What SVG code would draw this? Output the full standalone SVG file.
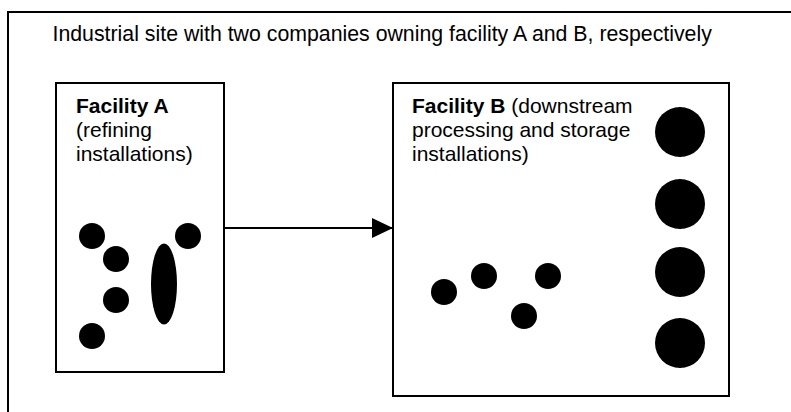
<svg xmlns="http://www.w3.org/2000/svg" width="791" height="412" viewBox="0 0 791 412">
<style>
.box{fill:#fff;stroke:#000;stroke-width:2}
.t{font-family:"Liberation Sans",Arial,sans-serif;font-size:21px;fill:#000}
.b{font-weight:bold}
.dot{fill:#000}
</style>
<defs>
<marker id="ah" markerWidth="22" markerHeight="20" refX="21" refY="10" orient="auto" markerUnits="userSpaceOnUse">
<path d="M0,0 L21,10 L0,20 Z" fill="#000"/>
</marker>
</defs>
<rect width="791" height="412" fill="#fff"/>
<g id="site">
<rect class="box" x="8" y="12" width="800" height="420"/>
<text class="t" x="52.5" y="41" style="font-size:21.3px">Industrial site with two companies owning facility A and B, respectively</text>
</g>
<g id="facilityA">
<rect class="box" x="56" y="83" width="168" height="289"/>
<text class="t" x="76" y="113"><tspan class="b">Facility A</tspan><tspan x="76" dy="24">(refining</tspan><tspan x="76" dy="24">installations)</tspan></text>
<circle class="dot" cx="92" cy="236" r="13"/>
<circle class="dot" cx="116" cy="259" r="13"/>
<circle class="dot" cx="116" cy="300" r="13"/>
<circle class="dot" cx="92" cy="336" r="13"/>
<circle class="dot" cx="188" cy="236" r="13"/>
<ellipse class="dot" cx="164" cy="284" rx="13" ry="40.5"/>
</g>
<g id="facilityB">
<rect class="box" x="393" y="83" width="336" height="313"/>
<text class="t" x="412" y="113"><tspan class="b">Facility B</tspan> (downstream<tspan x="412" dy="24">processing and storage</tspan><tspan x="412" dy="24">installations)</tspan></text>
<circle class="dot" cx="680" cy="132" r="25"/>
<circle class="dot" cx="680" cy="204" r="25"/>
<circle class="dot" cx="680" cy="272" r="25"/>
<circle class="dot" cx="680" cy="343" r="25"/>
<circle class="dot" cx="444" cy="292" r="13"/>
<circle class="dot" cx="484" cy="276" r="13"/>
<circle class="dot" cx="548" cy="276" r="13"/>
<circle class="dot" cx="524" cy="316" r="13"/>
</g>
<g id="connectors">
<line x1="224" y1="228" x2="393" y2="228" stroke="#000" stroke-width="2" marker-end="url(#ah)"/>
</g>
</svg>
